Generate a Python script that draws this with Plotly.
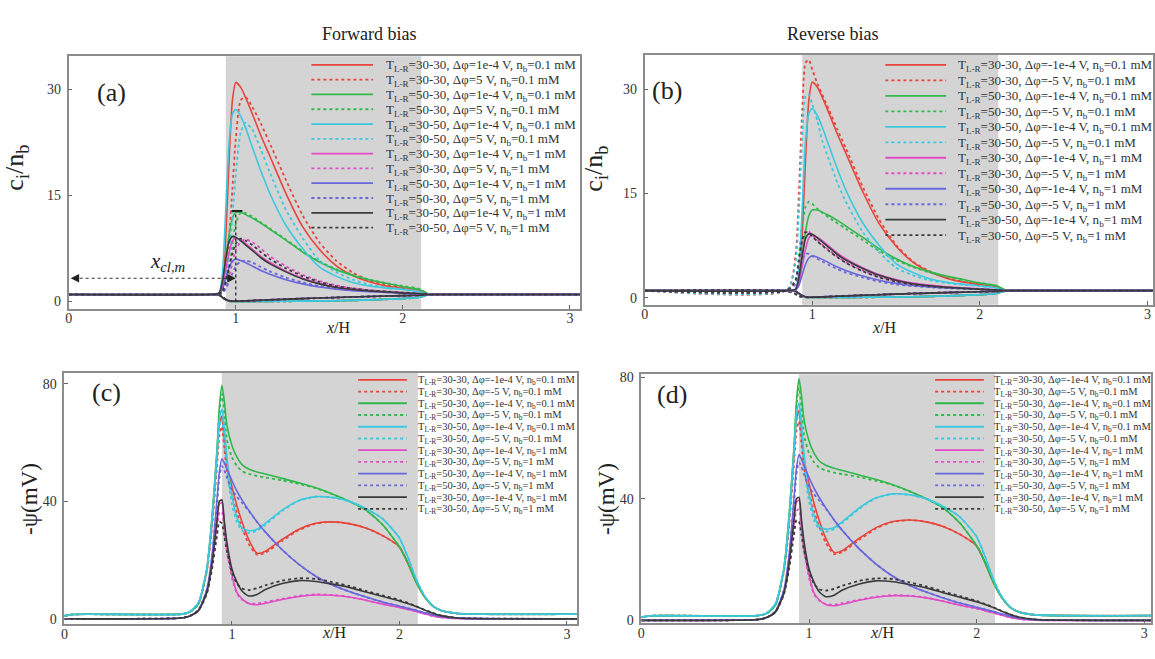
import plotly.graph_objects as go

# ------------------------------------------------------------------
# Data
# ------------------------------------------------------------------
# x/H sample positions for the concentration panels (a), (b)
X_AB = [0, 0.85, 0.9, 0.92, 0.94, 0.96, 0.98, 1.0, 1.03, 1.06, 1.1, 1.15, 1.2,
        1.3, 1.4, 1.5, 1.6, 1.7, 1.8, 1.9, 2.0, 2.1, 2.15, 2.2, 3.06]

# counter-ion c_i/n_b, near-zero bias (same in (a) and (b))
ci_red = [1, 1, 1.1, 2, 9, 20, 28.5, 31, 30.3, 28.8, 26.5, 23.5, 20.8, 15.3, 10.6, 7.4, 5.1, 3.7, 2.8, 2.2, 1.9, 1.6, 1.1, 1, 1]
ci_green = [1, 1, 1.2, 2.5, 6, 9.5, 11.8, 12.6, 12.6, 12.3, 11.8, 11.1, 10.3, 8.7, 7.0, 5.6, 4.5, 3.7, 3.1, 2.6, 2.1, 1.7, 1.1, 1, 1]
ci_cyan = [1, 1, 1.2, 4, 13, 22.5, 26.5, 27.2, 26.2, 24.5, 21.8, 18.5, 15.5, 10.8, 7.5, 4.9, 3.6, 2.7, 2.2, 1.9, 1.7, 1.35, 1.0, 1, 1]
ci_mag = [1, 1, 1.15, 2, 4.5, 7, 8.6, 9.0, 8.7, 8.2, 7.4, 6.4, 5.6, 4.3, 3.3, 2.6, 2.1, 1.8, 1.55, 1.4, 1.25, 1.1, 1.0, 1, 1]
ci_blue = [1, 1, 1.1, 1.7, 3.3, 4.8, 5.7, 6.0, 5.8, 5.5, 5.0, 4.4, 3.9, 3.1, 2.5, 2.05, 1.75, 1.55, 1.4, 1.3, 1.2, 1.1, 1.0, 1, 1]
ci_black = [1, 1, 1.2, 2.8, 6, 8.5, 9.2, 9.1, 8.6, 8.0, 7.2, 6.2, 5.4, 4.2, 3.2, 2.5, 2.0, 1.7, 1.5, 1.35, 1.2, 1.1, 1.0, 1, 1]

# forward bias (a), dphi = 5 V
a_red_dot = [1, 1, 1.05, 1.2, 3, 9, 16, 23, 28.5, 28.9, 27.5, 25.2, 22.6, 17.2, 12.2, 8.4, 5.8, 4.1, 3.0, 2.4, 2.0, 1.7, 1.1, 1, 1]
a_green_dot = [1, 1, 1.05, 1.3, 2.3, 4.5, 8, 11, 12.6, 12.5, 12, 11.2, 10.4, 8.8, 7.1, 5.7, 4.6, 3.8, 3.1, 2.6, 2.2, 1.8, 1.1, 1, 1]
a_cyan_dot = [1, 1, 1.05, 1.3, 3, 6.5, 12, 18, 24, 25.3, 24.3, 21.5, 18.5, 13, 9, 5.8, 4.2, 3.1, 2.4, 2.0, 1.8, 1.4, 1.0, 1, 1]
a_mag_dot = [1, 1, 1.05, 1.2, 2, 3.5, 5.5, 7.3, 8.5, 8.8, 8.4, 7.5, 6.5, 5.0, 3.8, 2.9, 2.3, 1.9, 1.6, 1.45, 1.3, 1.15, 1.0, 1, 1]
a_blue_dot = [1, 1, 1.05, 1.2, 1.8, 2.8, 4.0, 5.0, 5.7, 5.8, 5.5, 4.9, 4.3, 3.4, 2.7, 2.2, 1.85, 1.6, 1.45, 1.32, 1.22, 1.1, 1.0, 1, 1]
a_black_dot = [1, 1, 1.05, 1.4, 2.8, 4.8, 6.8, 8.2, 8.9, 8.6, 8.0, 7.0, 6.1, 4.7, 3.6, 2.8, 2.2, 1.85, 1.6, 1.42, 1.28, 1.12, 1.0, 1, 1]

# reverse bias (b), dphi = -5 V
b_red_dot = [1, 1.1, 6, 15, 27, 33.8, 34.2, 32.8, 30.8, 29.2, 27, 24.2, 21.5, 16, 11.2, 7.6, 5.2, 3.8, 2.9, 2.3, 1.95, 1.6, 1.05, 1, 1]
b_green_dot = [1, 1.05, 2.5, 6, 10.5, 13, 13.8, 13.5, 12.8, 12.2, 11.5, 10.7, 9.9, 8.3, 6.7, 5.4, 4.4, 3.6, 3.0, 2.5, 2.1, 1.7, 1.1, 1, 1]
b_cyan_dot = [1, 1.1, 5, 12, 23, 29, 29.2, 27.8, 25.5, 22.5, 19.8, 16.5, 13.8, 9.5, 6.5, 4.3, 3.2, 2.5, 2.1, 1.85, 1.65, 1.35, 1.0, 1, 1]
b_mag_dot = [1, 1.05, 2.3, 5, 8.2, 9.6, 9.5, 9.0, 8.3, 7.6, 6.8, 5.9, 5.1, 3.9, 3.0, 2.4, 2.0, 1.7, 1.5, 1.35, 1.22, 1.1, 1.0, 1, 1]
b_blue_dot = [1, 1.05, 1.9, 3.5, 5.4, 6.3, 6.3, 6.0, 5.6, 5.2, 4.7, 4.1, 3.6, 2.9, 2.3, 1.9, 1.65, 1.5, 1.35, 1.27, 1.18, 1.08, 1.0, 1, 1]
b_black_dot = [1, 1.05, 2.5, 5.3, 8.3, 9.4, 9.3, 8.8, 8.1, 7.5, 6.7, 5.8, 5.0, 3.8, 2.9, 2.3, 1.9, 1.62, 1.45, 1.32, 1.2, 1.08, 1.0, 1, 1]

# co-ion (depleted) c_i/n_b
co_low = [1, 1, 0.95, 0.6, 0.25, 0.08, 0.03, 0.02, 0.02, 0.02, 0.02, 0.02, 0.03, 0.04, 0.06, 0.08, 0.12, 0.17, 0.24, 0.32, 0.42, 0.6, 0.95, 1, 1]
co_high = [1, 1, 0.95, 0.6, 0.3, 0.12, 0.06, 0.05, 0.07, 0.1, 0.14, 0.19, 0.24, 0.33, 0.42, 0.5, 0.58, 0.65, 0.72, 0.78, 0.84, 0.9, 0.97, 1, 1]
co_low_rev = [1, 0.95, 0.5, 0.2, 0.07, 0.03, 0.02, 0.02, 0.02, 0.02, 0.02, 0.02, 0.03, 0.04, 0.06, 0.08, 0.12, 0.17, 0.24, 0.32, 0.42, 0.6, 0.95, 1, 1]
co_high_rev = [1, 0.95, 0.55, 0.25, 0.1, 0.06, 0.05, 0.06, 0.08, 0.11, 0.15, 0.2, 0.25, 0.34, 0.43, 0.51, 0.59, 0.66, 0.73, 0.79, 0.85, 0.9, 0.97, 1, 1]

# x/H sample positions for the potential panels (c), (d)
X_CD = [0, 0.05, 0.7, 0.75, 0.8, 0.85, 0.88, 0.91, 0.925, 0.94, 0.955, 0.97, 1.0, 1.03, 1.06,
        1.1, 1.15, 1.2, 1.3, 1.4, 1.5, 1.6, 1.7, 1.8, 1.9, 2.0, 2.05, 2.1, 2.15, 2.2, 2.25, 2.35, 3.06]

# -psi (mV)
psi_red = [1.0, 1.5, 1.6, 2.4, 5.2, 16.5, 32, 54, 66, 69, 61, 53, 45, 38.5, 33, 27, 22.3, 23, 27, 30.5, 32.5, 33, 32.4, 30.9, 28.3, 24.5, 19, 12.5, 7.5, 4.3, 2.8, 1.8, 1.6]
psi_red_dot = [1.0, 1.5, 1.6, 2.4, 5.2, 16, 30, 51, 62, 65.5, 58, 50, 42, 36, 31, 25.5, 21.8, 22.5, 26.5, 30.2, 32.4, 33, 32.4, 30.9, 28.3, 24.5, 19, 12.5, 7.5, 4.3, 2.8, 1.8, 1.6]
psi_green = [1.0, 1.5, 1.6, 2.3, 5, 17, 34, 57, 72, 79.5, 74, 66, 59, 55, 52.5, 51, 50, 49.3, 47.8, 46.3, 44.6, 42.5, 40, 37, 32, 24.5, 19, 12.5, 7.5, 4.3, 2.8, 1.8, 1.6]
psi_green_dot = [1.0, 1.5, 1.6, 2.3, 5, 17, 33, 55, 70, 76.5, 70, 61, 55, 52, 50.3, 49.3, 48.6, 48.1, 47.1, 45.9, 44.5, 42.4, 40, 37, 32, 24.5, 19, 12.5, 7.5, 4.3, 2.8, 1.8, 1.6]
psi_cyan = [1.0, 1.5, 1.6, 2.5, 5.5, 17, 33, 56, 68, 71.5, 65, 55, 42, 34.5, 31, 30, 30.5, 32.5, 37, 40.3, 41.6, 41.3, 40, 37.5, 34, 27.5, 21, 13.5, 7.8, 4.4, 2.8, 1.8, 1.6]
psi_cyan_dot = [1.0, 1.5, 1.6, 2.5, 5.5, 17, 32, 54, 65, 68, 61, 51, 39, 33, 30, 29.2, 30, 32, 36.7, 40.2, 41.6, 41.3, 40, 37.5, 34, 27.5, 21, 13.5, 7.8, 4.4, 2.8, 1.8, 1.6]
psi_mag = [0, 0, 0.3, 1, 2.8, 9, 18, 32, 39, 39.5, 32, 25, 15, 9, 6.8, 5.2, 4.8, 5.3, 6.6, 7.6, 8.1, 8.0, 7.4, 6.3, 5.0, 3.9, 3.2, 2.5, 1.7, 1.0, 0.5, 0.1, 0]
psi_mag_dot = [0, 0, 0.3, 1, 2.8, 9, 17.5, 30, 36, 36.5, 30, 23, 14, 8.6, 6.6, 5.3, 5.2, 5.7, 6.8, 7.8, 8.3, 8.1, 7.5, 6.3, 5.0, 3.9, 3.2, 2.5, 1.7, 1.0, 0.5, 0.1, 0]
psi_blue = [0, 0, 0.3, 1, 3, 10, 21, 40, 50, 54.5, 53, 51, 47, 43.5, 40.5, 37, 33, 29.5, 23.5, 18.5, 14.5, 11.5, 9.3, 7.4, 5.7, 4.3, 3.6, 2.9, 2.1, 1.4, 0.8, 0.25, 0]
psi_blue_dot = [0, 0, 0.3, 1, 3, 10, 20, 38, 48, 52, 50.5, 48, 44, 41.5, 39.5, 36.8, 33, 29.5, 23.5, 18.5, 14.5, 11.5, 9.3, 7.4, 5.7, 4.3, 3.6, 2.9, 2.1, 1.4, 0.8, 0.25, 0]
psi_black = [0, 0, 0.3, 1, 2.8, 9, 18.5, 33, 40, 40.5, 33, 26, 17, 12.5, 9.5, 7.8, 8.3, 10, 12, 13, 12.7, 11.8, 10.7, 9.1, 7.6, 6.1, 5.2, 4.2, 3.0, 1.9, 1.1, 0.3, 0]
psi_black_dot = [0, 0, 0.3, 1, 2.8, 8.5, 16.5, 28, 33, 32.5, 28, 23, 16, 12, 10.3, 9.8, 10.4, 11.4, 13, 13.8, 13.6, 12.5, 11.2, 9.5, 8.0, 6.4, 5.4, 4.3, 3.1, 2.0, 1.1, 0.3, 0]

LABELS_FWD = [
    "T<sub>L-R</sub>=30-30, Δφ=1e-4 V, n<sub>b</sub>=0.1 mM",
    "T<sub>L-R</sub>=30-30, Δφ=5 V, n<sub>b</sub>=0.1 mM",
    "T<sub>L-R</sub>=50-30, Δφ=1e-4 V, n<sub>b</sub>=0.1 mM",
    "T<sub>L-R</sub>=50-30, Δφ=5 V, n<sub>b</sub>=0.1 mM",
    "T<sub>L-R</sub>=30-50, Δφ=1e-4 V, n<sub>b</sub>=0.1 mM",
    "T<sub>L-R</sub>=30-50, Δφ=5 V, n<sub>b</sub>=0.1 mM",
    "T<sub>L-R</sub>=30-30, Δφ=1e-4 V, n<sub>b</sub>=1 mM",
    "T<sub>L-R</sub>=30-30, Δφ=5 V, n<sub>b</sub>=1 mM",
    "T<sub>L-R</sub>=50-30, Δφ=1e-4 V, n<sub>b</sub>=1 mM",
    "T<sub>L-R</sub>=50-30, Δφ=5 V, n<sub>b</sub>=1 mM",
    "T<sub>L-R</sub>=30-50, Δφ=1e-4 V, n<sub>b</sub>=1 mM",
    "T<sub>L-R</sub>=30-50, Δφ=5 V, n<sub>b</sub>=1 mM",
]
LABELS_REV = [
    "T<sub>L-R</sub>=30-30, Δφ=-1e-4 V, n<sub>b</sub>=0.1 mM",
    "T<sub>L-R</sub>=30-30, Δφ=-5 V, n<sub>b</sub>=0.1 mM",
    "T<sub>L-R</sub>=50-30, Δφ=-1e-4 V, n<sub>b</sub>=0.1 mM",
    "T<sub>L-R</sub>=50-30, Δφ=-5 V, n<sub>b</sub>=0.1 mM",
    "T<sub>L-R</sub>=30-50, Δφ=-1e-4 V, n<sub>b</sub>=0.1 mM",
    "T<sub>L-R</sub>=30-50, Δφ=-5 V, n<sub>b</sub>=0.1 mM",
    "T<sub>L-R</sub>=30-30, Δφ=-1e-4 V, n<sub>b</sub>=1 mM",
    "T<sub>L-R</sub>=30-30, Δφ=-5 V, n<sub>b</sub>=1 mM",
    "T<sub>L-R</sub>=50-30, Δφ=-1e-4 V, n<sub>b</sub>=1 mM",
    "T<sub>L-R</sub>=50-30, Δφ=-5 V, n<sub>b</sub>=1 mM",
    "T<sub>L-R</sub>=30-50, Δφ=-1e-4 V, n<sub>b</sub>=1 mM",
    "T<sub>L-R</sub>=30-50, Δφ=-5 V, n<sub>b</sub>=1 mM",
]
TICKS_X = [0, 1, 2, 3]
TICKS_CI = [0, 15, 30]
TICKS_PSI = [0, 40, 80]
SHADE = [0.94, 2.11]          # shaded channel region, x/H
XCL_Y = 3.3                    # height of the x_cl,m arrow
BAR_Y = 12.8                   # peak marker height in (a)

# ------------------------------------------------------------------
# styling
# ------------------------------------------------------------------
W, H = 1155, 659
FONT = "Liberation Serif"
RED, GREEN, CYAN, MAG, BLUE, BLACK = "#e8453c", "#31b84c", "#3cc8df", "#e24cc6", "#6a66dc", "#3a3a3a"
COLORS = [RED, RED, GREEN, GREEN, CYAN, CYAN, MAG, MAG, BLUE, BLUE, BLACK, BLACK]
DASHES = ["solid", "dot"] * 6


def px(x):
    return x / W


def py(y):
    return 1 - y / H


fig = go.Figure()


def add_line(x, y, color, dash, xa, ya):
    fig.add_trace(go.Scatter(
        x=x, y=y, mode="lines", xaxis=xa, yaxis=ya, showlegend=False,
        line=dict(color=color, dash=dash, width=1.6 if dash == "solid" else 1.8,
                  shape="spline", smoothing=0.6),
        hoverinfo="skip"))


peaks_a = [ci_red, a_red_dot, ci_green, a_green_dot, ci_cyan, a_cyan_dot,
           ci_mag, a_mag_dot, ci_blue, a_blue_dot, ci_black, a_black_dot]
peaks_b = [ci_red, b_red_dot, ci_green, b_green_dot, ci_cyan, b_cyan_dot,
           ci_mag, b_mag_dot, ci_blue, b_blue_dot, ci_black, b_black_dot]
cos_a = [co_low] * 6 + [co_high] * 6
cos_b = [co_low, co_low_rev] * 3 + [co_high, co_high_rev] * 3
psis = [psi_red, psi_red_dot, psi_green, psi_green_dot, psi_cyan, psi_cyan_dot,
        psi_mag, psi_mag_dot, psi_blue, psi_blue_dot, psi_black, psi_black_dot]

for i in range(12):
    add_line(X_AB, cos_a[i], COLORS[i], DASHES[i], "x", "y")
for i in range(12):
    add_line(X_AB, peaks_a[i], COLORS[i], DASHES[i], "x", "y")
for i in range(12):
    add_line(X_AB, cos_b[i], COLORS[i], DASHES[i], "x2", "y2")
for i in range(12):
    add_line(X_AB, peaks_b[i], COLORS[i], DASHES[i], "x2", "y2")
for i in range(12):
    add_line(X_CD, psis[i], COLORS[i], DASHES[i], "x3", "y3")
for i in range(12):
    add_line(X_CD, psis[i], COLORS[i], DASHES[i], "x4", "y4")

common = dict(showline=True, mirror=True, linecolor="#8c8c8c", linewidth=1.5,
              ticks="inside", ticklen=4, tickwidth=1, tickcolor="#666",
              showgrid=False, zeroline=False,
              tickfont=dict(family=FONT, size=14, color="#333"))
xc = dict(common, ticklabelstandoff=-4)
yc = dict(common, ticklabelstandoff=3)

fig.update_layout(
    width=W, height=H, margin=dict(l=0, r=0, t=0, b=0),
    paper_bgcolor="white", plot_bgcolor="white", showlegend=False,
    font=dict(family=FONT, color="#222"),
    xaxis=dict(domain=[px(65), px(579)], anchor="y", range=[0, 3.06], tickvals=TICKS_X, **xc),
    yaxis=dict(domain=[py(309), py(53)], anchor="x", range=[-1.02, 34.7], tickvals=TICKS_CI, **yc),
    xaxis2=dict(domain=[px(644), 1.0], anchor="y2", range=[0, 3.033], tickvals=TICKS_X, **xc),
    yaxis2=dict(domain=[py(305), py(51.7)], anchor="x2", range=[-1.04, 34.9], tickvals=TICKS_CI, **yc),
    xaxis3=dict(domain=[px(60.7), px(576)], anchor="y3", range=[0, 3.06], tickvals=TICKS_X, **xc),
    yaxis3=dict(domain=[py(629), py(374)], anchor="x3", range=[-1.9, 83.7], tickvals=TICKS_PSI, **yc),
    xaxis4=dict(domain=[px(640.7), px(1153)], anchor="y4", range=[0, 3.04], tickvals=TICKS_X, **xc),
    yaxis4=dict(domain=[py(627.7), py(375.5)], anchor="x4", range=[-0.9, 80.9], tickvals=TICKS_PSI, **yc),
)

shapes = []
annotations = []

# shaded regions
for xr, yr in [("x", "y"), ("x2", "y2"), ("x3", "y3"), ("x4", "y4")]:
    shapes.append(dict(type="rect", xref=xr, yref=yr + " domain", x0=SHADE[0], x1=SHADE[1],
                       y0=0, y1=1, fillcolor="#d4d4d4", line=dict(width=0), layer="below"))

# x_cl,m construction in (a)
shapes.append(dict(type="line", xref="x", yref="y", x0=0.03, x1=0.975, y0=XCL_Y, y1=XCL_Y,
                   line=dict(color="#333", width=1.2, dash="3px,3px")))
shapes.append(dict(type="line", xref="x", yref="y", x0=1.0, x1=1.0, y0=0, y1=BAR_Y,
                   line=dict(color="#333", width=1.4, dash="dot")))
shapes.append(dict(type="line", xref="x", yref="y", x0=0.975, x1=1.04, y0=BAR_Y, y1=BAR_Y,
                   line=dict(color="#222", width=2)))
for tip, tail in [(0.012, 0.06), (1.0, 0.95)]:
    annotations.append(dict(x=tip, y=XCL_Y, ax=tail, ay=XCL_Y, xref="x", yref="y",
                            axref="x", ayref="y", text="", showarrow=True,
                            arrowhead=2, arrowsize=1.3, arrowwidth=1.3, arrowcolor="#222"))
annotations.append(dict(x=px(145), y=py(262), xref="paper", yref="paper",
                        text="<i>x</i><sub><i>cl,m</i></sub>", showarrow=False,
                        font=dict(family=FONT, size=21, color="#222")))

# hand-placed legends (transparent, compact rows)
legends = [
    (LABELS_FWD, 309, 371, 381.5, 61.7, 15.0, 13),
    (LABELS_REV, 886, 947, 957, 61.7, 15.7, 13),
    (LABELS_REV, 356, 405, 414, 381, 11.9, 10.5),
    (LABELS_REV, 936, 985, 993, 381, 11.9, 10.5),
]
for labels, lx0, lx1, tx, y0, dy, fs in legends:
    for i, lab in enumerate(labels):
        yy = y0 + dy * i
        shapes.append(dict(type="line", xref="paper", yref="paper", x0=px(lx0), x1=px(lx1),
                           y0=py(yy), y1=py(yy),
                           line=dict(color=COLORS[i], dash=DASHES[i], width=1.8)))
        annotations.append(dict(x=px(tx), y=py(yy + 1), xref="paper", yref="paper",
                                xanchor="left", yanchor="middle", text=lab, showarrow=False,
                                font=dict(family=FONT, size=fs, color="#333")))

# panel letters, titles, axis titles
for txt, x, y in [("(a)", 91, 73), ("(b)", 666, 71), ("(c)", 86, 394), ("(d)", 671, 396)]:
    annotations.append(dict(x=px(x), y=py(y), xref="paper", yref="paper", text=txt,
                            showarrow=False, font=dict(family=FONT, size=26, color="#222")))
for txt, x in [("Forward bias", 318), ("Reverse bias", 881)]:
    annotations.append(dict(x=px(x), y=py(18), xref="paper", yref="paper", text=txt,
                            showarrow=False, font=dict(family=FONT, size=18, color="#222")))
for x, y in [(322, 328), (900, 328), (318, 648), (898, 648)]:
    annotations.append(dict(x=px(x), y=py(y), xref="paper", yref="paper", text="<i>x</i>/H",
                            showarrow=False, font=dict(family=FONT, size=16, color="#222")))
for txt, x, y in [("c<sub>i</sub>/n<sub>b</sub>", 12, 166), ("c<sub>i</sub>/n<sub>b</sub>", 594, 167)]:
    annotations.append(dict(x=px(x), y=py(y), xref="paper", yref="paper", text=txt,
                            textangle=-90, showarrow=False, xanchor="center", yanchor="middle",
                            font=dict(family=FONT, size=26, color="#222")))
for txt, x, y in [("-ψ(mV)", 25, 502), ("-ψ(mV)", 605, 502)]:
    annotations.append(dict(x=px(x), y=py(y), xref="paper", yref="paper", text=txt,
                            textangle=-90, showarrow=False, xanchor="center", yanchor="middle",
                            font=dict(family=FONT, size=23, color="#222")))

fig.update_layout(shapes=shapes, annotations=annotations)
fig.write_html("out.html")
